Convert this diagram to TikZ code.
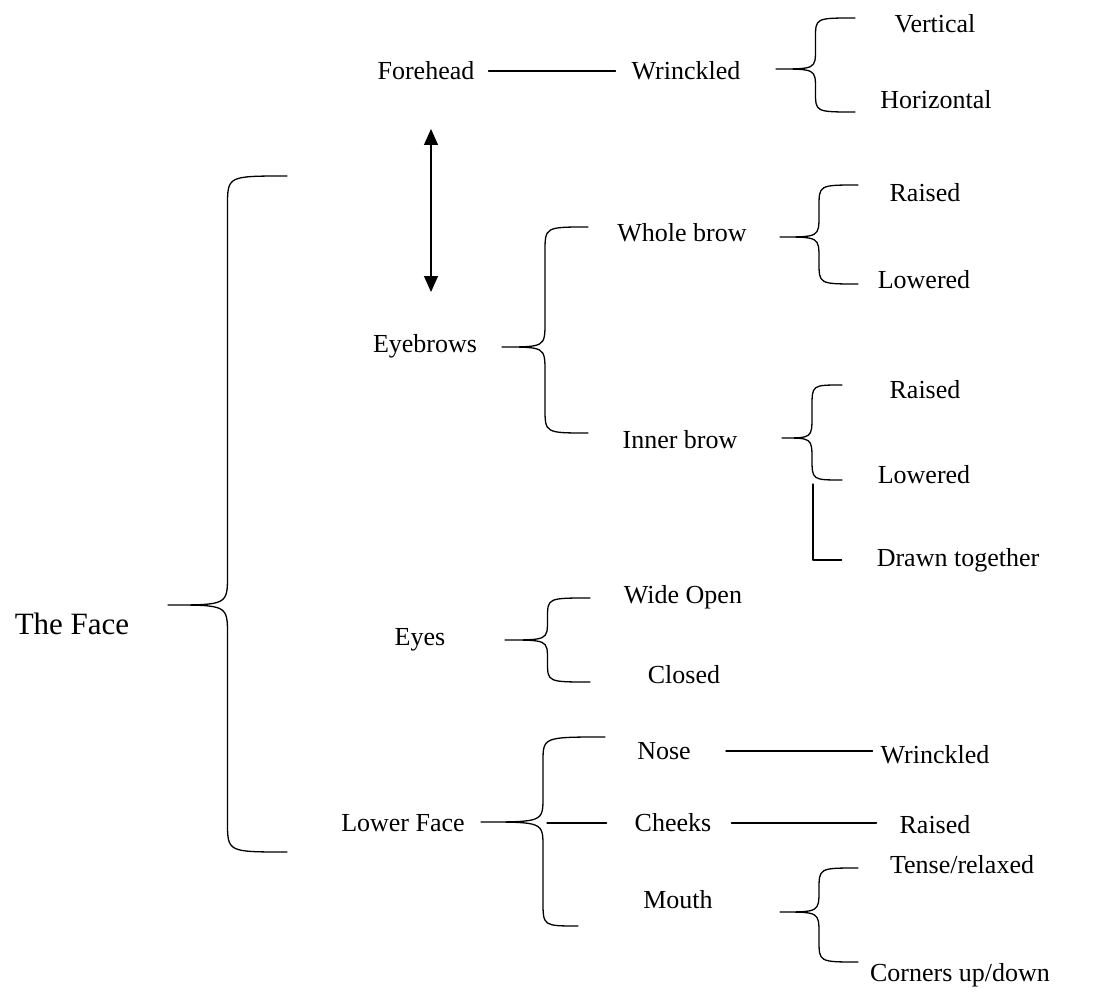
\documentclass[tikz,border=0pt]{standalone}
\usepackage{fontspec}
\setmainfont{Liberation Serif}
\usetikzlibrary{arrows.meta,calc}

\tikzset{
  facelabel/.style={font=\fontsize{26}{30}\selectfont, inner sep=0pt},
  faceline/.style={line width=1.3pt, line cap=round, line join=round},
  twohead/.style={line width=1.3pt, {Triangle[length=16pt,width=14pt]}-{Triangle[length=16pt,width=14pt]}},
}

% curly brace: top end, tip, bottom end, bend height
\newcommand{\facebrace}[4]{%
  \draw [faceline] let \p1=(#1), \p2=(#2), \p3=(#3), \n1={0.5*\x1+0.5*\x2} in
    (\p1) .. controls (\n1,\y1) .. (\n1,\y1-#4) -- (\n1,\y2+#4)
    .. controls (\n1,\y2) .. (\p2) .. controls (\n1,\y2) .. (\n1,\y2-#4)
    -- (\n1,\y3+#4) .. controls (\n1,\y3) .. (\p3);
}

\begin{document}
\begin{tikzpicture}[x=1pt,y=-1pt]
\useasboundingbox (0,0) rectangle (1119,995);

\node [facelabel, font=\fontsize{31}{36}\selectfont] (face) at (72,624) {The Face};

\node [facelabel] (forehead) at (426,71) {Forehead};
\node [facelabel] (wrinkle1) at (686,71) {Wrinckled};
\node [facelabel] (vertical) at (935,24) {Vertical};
\node [facelabel] (horizontal) at (936,100) {Horizontal};

\node [facelabel] (eyebrows) at (425,346) {Eyebrows};
\node [facelabel] (wholebrow) at (682,233) {Whole brow};
\node [facelabel] (innerbrow) at (680,440) {Inner brow};
\node [facelabel] (raised1) at (925,193) {Raised};
\node [facelabel] (lowered1) at (924,280) {Lowered};
\node [facelabel] (raised2) at (925,390) {Raised};
\node [facelabel] (lowered2) at (924,475) {Lowered};
\node [facelabel] (drawn) at (958,560) {Drawn together};

\node [facelabel] (eyes) at (420,640) {Eyes};
\node [facelabel] (wideopen) at (683,597) {Wide Open};
\node [facelabel] (closed) at (684,675) {Closed};

\node [facelabel] (lowerface) at (403,823) {Lower Face};
\node [facelabel] (nose) at (664,751) {Nose};
\node [facelabel] (wrinkle2) at (935,755) {Wrinckled};
\node [facelabel] (cheeks) at (673,823) {Cheeks};
\node [facelabel] (raised3) at (935,825) {Raised};
\node [facelabel] (mouth) at (678,900) {Mouth};
\node [facelabel] (tense) at (962,865) {Tense/relaxed};
\node [facelabel] (corners) at (960,975) {Corners up/down};

% brace ends
\coordinate (face-top) at (287,176);
\coordinate (face-tip) at (168,605);
\coordinate (face-bot) at (287,852);
\coordinate (fh-top) at (855,18);
\coordinate (fh-tip) at (776,69);
\coordinate (fh-bot) at (855,112);
\coordinate (eb-top) at (588,227);
\coordinate (eb-tip) at (502,347);
\coordinate (eb-bot) at (588,433);
\coordinate (wb-top) at (858,185);
\coordinate (wb-tip) at (780,237);
\coordinate (wb-bot) at (858,284);
\coordinate (ib-top) at (842,385);
\coordinate (ib-tip) at (782,438);
\coordinate (ib-bot) at (842,480);
\coordinate (ib-low) at (813,484);
\coordinate (ey-top) at (590,598);
\coordinate (ey-tip) at (505,640);
\coordinate (ey-bot) at (590,682);
\coordinate (lf-top) at (605,737);
\coordinate (lf-tip) at (481,822);
\coordinate (lf-bot) at (578,926);
\coordinate (lf-mid) at (547,823);
\coordinate (mo-top) at (858,868);
\coordinate (mo-tip) at (780,912);
\coordinate (mo-bot) at (858,962);
\coordinate (arr-top) at (431,129);
\coordinate (arr-bot) at (431,292);

\facebrace{face-top}{face-tip}{face-bot}{30pt}
\facebrace{fh-top}{fh-tip}{fh-bot}{20pt}
\facebrace{eb-top}{eb-tip}{eb-bot}{25pt}
\facebrace{wb-top}{wb-tip}{wb-bot}{22pt}
\facebrace{ib-top}{ib-tip}{ib-bot}{22pt}
\facebrace{ey-top}{ey-tip}{ey-bot}{20pt}
\facebrace{lf-top}{lf-tip}{lf-bot}{25pt}
\facebrace{mo-top}{mo-tip}{mo-bot}{22pt}

\draw [faceline, shorten <=14pt, shorten >=16pt] (forehead.east) -- (forehead.east -| wrinkle1.west);
\draw [faceline, shorten <=35pt, shorten >=8pt] (nose.east) -- (nose.east -| wrinkle2.west);
\draw [faceline, shorten <=20pt, shorten >=23pt] (cheeks.east) -- (cheeks.east -| raised3.west);
\draw [faceline, shorten >=28pt] (lf-mid) -- (lf-mid -| cheeks.west);
\draw [faceline, shorten >=35pt] (ib-low) |- (drawn.west);

\draw [twohead] (arr-top) -- (arr-bot);
\end{tikzpicture}
\end{document}
